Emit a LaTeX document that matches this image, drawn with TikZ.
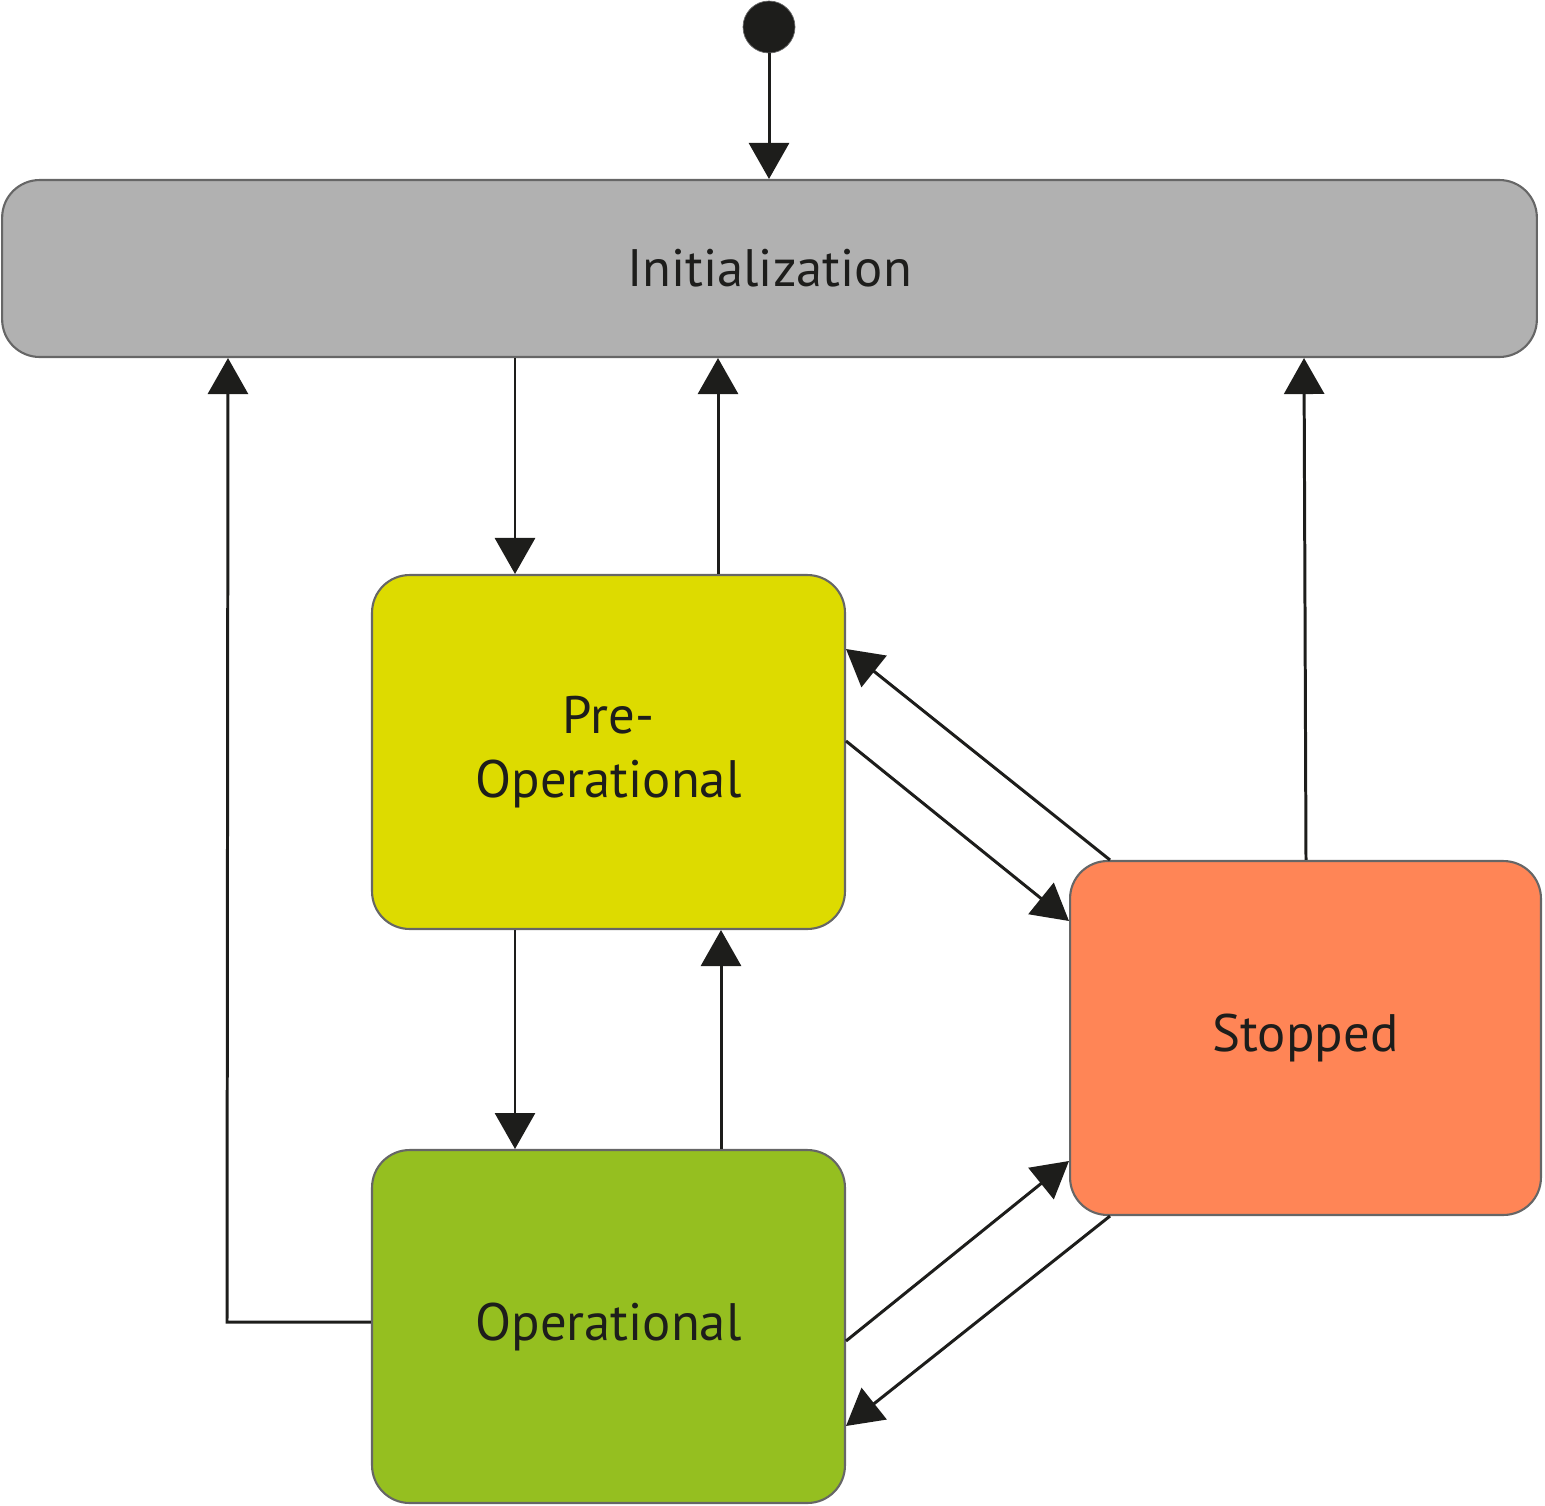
\documentclass[tikz,border=0pt]{standalone}
\usepackage{fontspec}
\setmainfont{PT Sans}
\usetikzlibrary{arrows.meta,calc}
\definecolor{cinit}{HTML}{B1B1B1}
\definecolor{cpre}{HTML}{DDDB00}
\definecolor{cop}{HTML}{95BF20}
\definecolor{cstop}{HTML}{FF8556}
\definecolor{ink}{HTML}{1D1D1B}
\begin{document}
\begin{tikzpicture}[x=0.02cm,y=-0.02cm,
  st/.style={draw=black!60,line width=1.2pt,rounded corners=0.75cm,inner sep=0pt,
    font=\fontsize{30}{36}\selectfont,text=ink,align=center},
  ar/.style={draw=ink,line width=1.7pt,-{Triangle[width=0.8cm,length=0.72cm]}},
  ln/.style={draw=ink,line width=1.7pt}]
\useasboundingbox (0,0) rectangle (1545,1505);
\node[circle,fill=ink,draw=black!60,minimum size=1.04cm,inner sep=0pt] (s) at (769,27) {};
\node[st,fill=cinit,minimum width=30.7cm,minimum height=3.54cm] (init) at (769.5,268.5) {Initialization};
\node[st,fill=cpre,minimum width=9.46cm,minimum height=7.08cm] (pre) at (608.5,752) {Pre-\\Operational};
\node[st,fill=cop,minimum width=9.46cm,minimum height=7.06cm] (op) at (608.5,1326.5) {Operational};
\node[st,fill=cstop,minimum width=9.42cm,minimum height=7.08cm] (stop) at (1305.5,1038) {Stopped};
\draw[ar] (s) -- (init.north -| 769,0);
\draw[ar] (init.south -| 515,0) -- (pre.north -| 515,0);
\draw[ar] (pre.north -| 718,0) -- (init.south -| 718,0);
\draw[ar] (pre.south -| 515,0) -- (op.north -| 515,0);
\draw[ar] (op.north -| 721,0) -- (pre.south -| 721,0);
\draw[ar] (op.west |- 0,1322) -- (227,1322) -- (init.south -| 228,0);
\draw[ar] (stop.north -| 1306,0) -- (init.south -| 1304,0);
\draw[ar] ($(stop.north west)+(41,0)$) -- ($(pre.north east)+(0,75)$);
\draw[ar] ($(pre.north east)+(0,167)$) -- ($(stop.north west)+(0,61)$);
\draw[ar] ($(op.north east)+(0,192)$) -- ($(stop.north west)+(0,301)$);
\draw[ar] ($(stop.south west)+(41,0)$) -- ($(op.north east)+(0,277)$);
\end{tikzpicture}
\end{document}
